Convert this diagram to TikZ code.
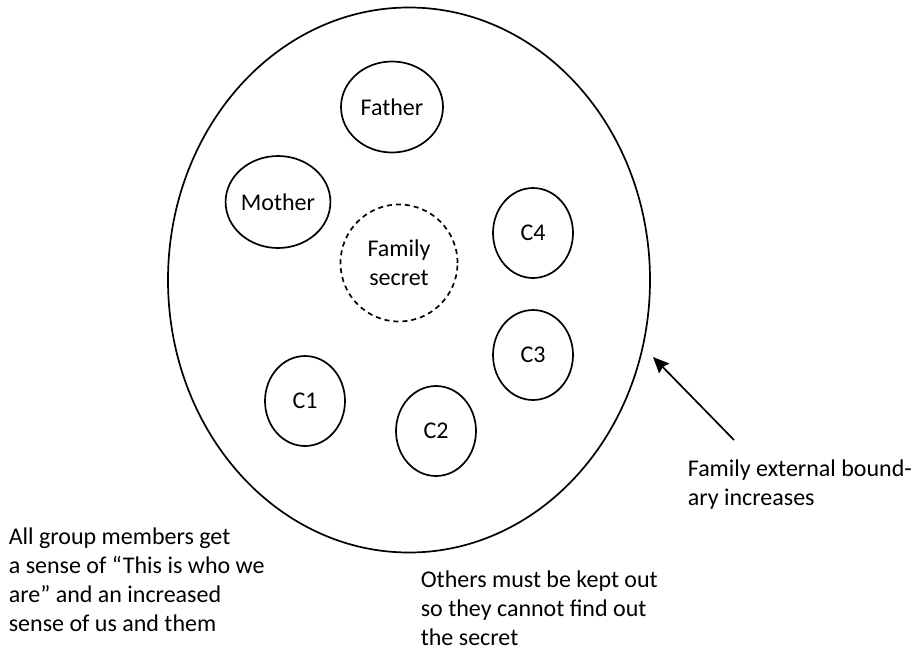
\documentclass[tikz,border=0pt]{standalone}
\usepackage{fontspec}
\setmainfont{Carlito}
\usetikzlibrary{shapes.geometric,arrows.meta}
\begin{document}
\begin{tikzpicture}
        [x=0.5pt, y=-0.5pt, line width=0.85pt,
        member/.style={ellipse, draw, inner sep=0pt, font=\fontsize{12}{14.5}\selectfont},
        child/.style={member, minimum width=40pt, minimum height=45pt},
        secret/.style={circle, draw, dash pattern=on 2.5pt off 2pt, inner sep=0pt, minimum size=58.5pt, align=center, font=\fontsize{12}{14.5}\selectfont},
        note/.style={anchor=north west, align=left, inner sep=0pt, font=\fontsize{12}{14.5}\selectfont}]
        \useasboundingbox (0,0) rectangle (915,648);
        % family boundary
        \node[ellipse, draw, minimum width=241pt, minimum height=272.5pt, inner sep=0pt] (boundary) at (409,280) {};
        
        \node[member, minimum width=51pt, minimum height=45.5pt] (father) at (392,107) {Father};
        \node[member, minimum width=51pt, minimum height=46pt] (mother) at (278,202) {Mother};
        \node[secret] (famsecret) at (399,263) {Family\\secret};
        \node[child] (c4) at (533,233) {C4};
        \node[child] (c3) at (533,355) {C3};
        \node[child] (c1) at (305,401) {C1};
        \node[child] (c2) at (436,431) {C2};
        
        % notes
        \node[note] (boundnote) at (687,459) {Family external bound-\\ary increases};
        \node[note] (usnote) at (8,527) {All group members get\\a sense of “This is who we\\are” and an increased\\sense of us and them};
        \node[note] (outnote) at (420,570) {Others must be kept out\\so they cannot find out\\the secret};
        
        \coordinate (tip) at (653,357);
        \coordinate (tail) at (734,440);
        \draw[-{Stealth[length=8pt, width=7pt, inset=1pt]}] (tail) -- (tip);
\end{tikzpicture}
\end{document}
